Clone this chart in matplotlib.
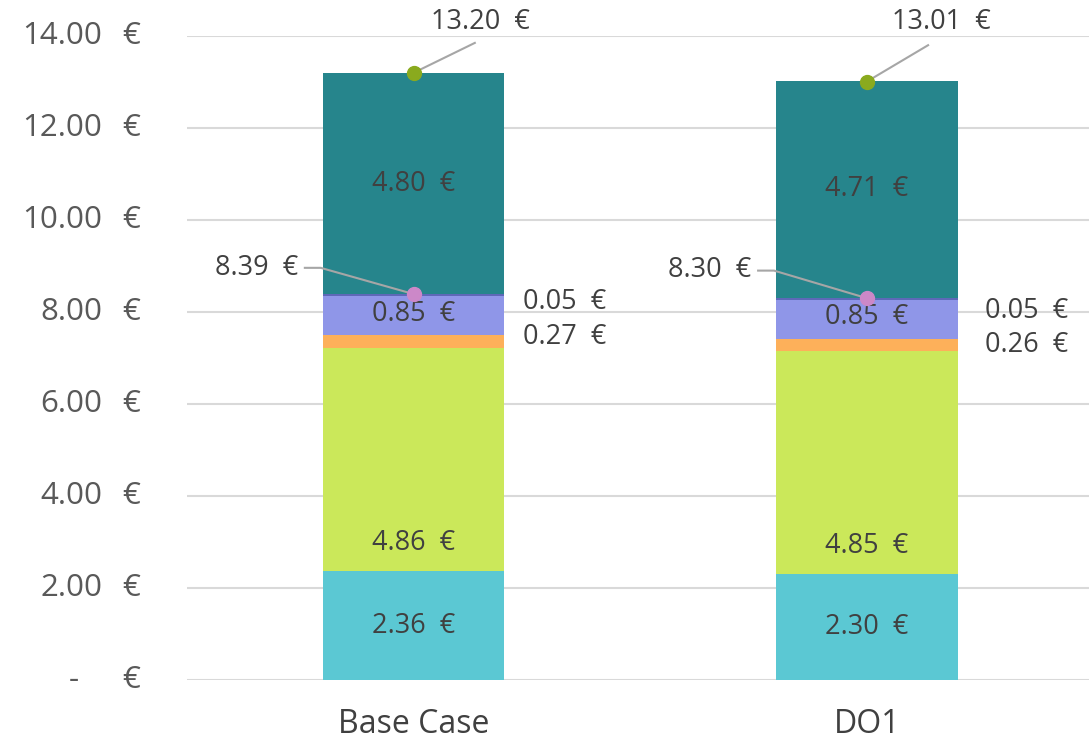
import matplotlib
matplotlib.use("Agg")
import numpy as np
import matplotlib.pyplot as plt

# data
categories = ["Base Case", "DO1"]
seg_a = [2.36, 2.30]     # cyan
seg_b = [4.86, 4.85]     # lime
seg_c = [0.27, 0.26]     # orange
seg_d = [0.85, 0.85]     # lavender
seg_e = [0.05, 0.05]     # thin dark blue
seg_f = [4.80, 4.71]     # teal
subtotal = [8.39, 8.30]
total = [13.20, 13.01]
yticks = [0, 2, 4, 6, 8, 10, 12, 14]

colors = ["#5BC8D3", "#CBE85A", "#FDB05A", "#8F96E8", "#5E68B8", "#26858C"]
txt = "#404040"
plt.rcParams["font.family"] = ["Open Sans", "DejaVu Sans"]

fig = plt.figure(figsize=(10.89, 7.43), dpi=100)
ax = fig.add_axes([187 / 1089, 1 - 680 / 743, 902 / 1089, 644 / 743])

x = np.arange(len(categories))
w = 0.4
segs = [seg_a, seg_b, seg_c, seg_d, seg_e, seg_f]
bottom = np.zeros(len(categories))
bottoms = []
for vals, c in zip(segs, colors):
    ax.bar(x, vals, w, bottom=bottom, color=c, zorder=2)
    bottoms.append(bottom.copy())
    bottom += np.array(vals)

fs = 19.5
for i in range(len(categories)):
    # centred labels
    for k in (0, 3, 5):
        v = segs[k][i]
        ax.text(x[i], bottoms[k][i] + v / 2 + (0.05 if k == 3 else 0), f"{v:.2f}  €",
                ha="center", va="center", fontsize=fs, color=txt, zorder=4)
    # lime label sits near its base
    ax.text(x[i], bottoms[1][i] + 0.62, f"{seg_b[i]:.2f}  €", ha="center", va="center",
            fontsize=fs, color=txt, zorder=4)
    # small segments labelled at the right
    xr = x[i] + w / 2 + 0.225 + 0.02 * i
    ax.text(xr, bottoms[4][i] - 0.12 - 0.12 * i, f"{seg_e[i]:.2f}  €", ha="right", va="center",
            fontsize=fs, color=txt)
    ax.text(xr, bottoms[2][i] + 0.24 - 0.11 * i, f"{seg_c[i]:.2f}  €", ha="right", va="center",
            fontsize=fs, color=txt)

    # total marker + label
    ax.plot(x[i], total[i], "o", color="#8AAA1E", ms=10, zorder=5)
    tx = x[i] + 0.148 + 0.017 * i
    ax.text(tx, 14.30, f"{total[i]:.2f}  €", ha="center", va="center", fontsize=fs, color=txt)
    ax.plot([x[i], x[i] + 0.135], [total[i], 13.85 - 0.05 * i], color="#A6A6A6", lw=1.5, zorder=4)

    # subtotal marker + label
    ax.plot(x[i], subtotal[i], "o", color="#CC88C8", ms=10, zorder=5)
    ax.text(x[i] - 0.255, 8.96 - 0.04 * i, f"{subtotal[i]:.2f}  €", ha="right", va="center",
            fontsize=fs, color=txt)
    ly = 8.96 - 0.06 * i
    ax.plot([x[i] - 0.24, x[i] - 0.205, x[i]], [ly, ly, subtotal[i]], color="#A6A6A6",
            lw=1.5, zorder=4)

ax.set_xlim(-0.5, 1.49)
ax.set_ylim(0, 14)
ax.set_yticks(yticks)
ax.set_yticklabels([])
ax.tick_params(axis="y", length=0)
ax.grid(axis="y", color="#D9D9D9", lw=1.5, zorder=0)
ax.set_axisbelow(True)
for s in ax.spines.values():
    s.set_visible(False)

tfs = 22.5
ytr = ax.get_yaxis_transform()
for t in yticks:
    if t == 0:
        ax.text(-0.125, t, "-", transform=ytr, ha="center", va="center", fontsize=tfs, color="#595959")
    else:
        ax.text(-0.094, t, f"{t:.2f}", transform=ytr, ha="right", va="center", fontsize=tfs, color="#595959")
    ax.text(-0.072, t, "€", transform=ytr, ha="left", va="center", fontsize=tfs, color="#595959")

ax.set_xticks(x)
ax.set_xticklabels(categories, fontsize=23, color="#404040")
ax.tick_params(axis="x", length=0, pad=20)

fig.savefig("out.png", dpi=100)
